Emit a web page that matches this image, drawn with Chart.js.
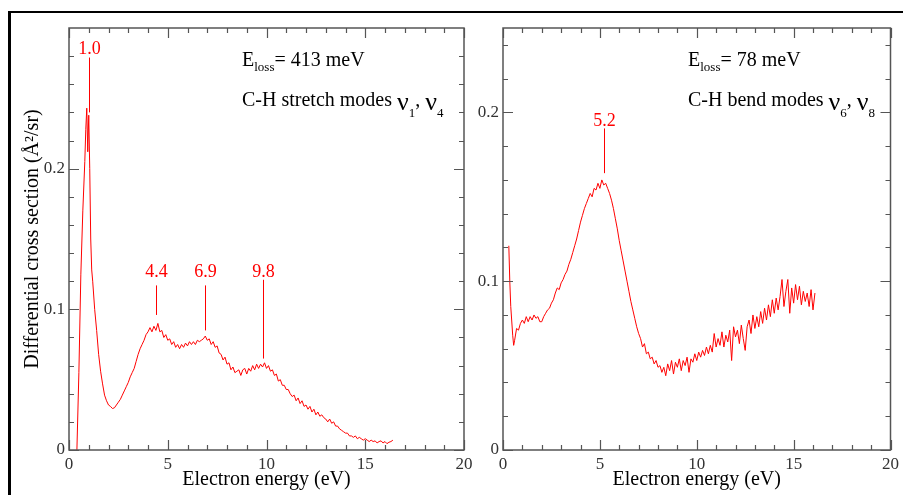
<!DOCTYPE html>
<html>
<head>
<meta charset="utf-8">
<script src="https://cdn.jsdelivr.net/npm/chart.js@4.4.0/dist/chart.umd.min.js"></script>
<style>
  html, body { margin: 0; padding: 0; background: #fff; }
  #page { position: relative; width: 903px; height: 495px; overflow: hidden; }
  #frame { position: absolute; left: 8px; top: 11px; width: 920px; height: 500px;
           border-top: 2px solid #000; border-left: 3px solid #000; }
  canvas { position: absolute; top: 0; }
  #left { left: 0; }
  #right { left: 470px; }
</style>
</head>
<body>
<div id="page">
  <div id="frame"></div>
  <canvas id="left" width="478" height="495"></canvas>
  <canvas id="right" width="433" height="495"></canvas>
</div>
<script>
// E_loss = 413 meV (C-H stretch)
const stretchEnergy = [
  0.4, 0.5, 0.6, 0.7, 0.8, 0.85, 0.9, 0.95, 1.0, 1.05, 1.1, 1.15, 1.2,
  1.3, 1.4, 1.5, 1.6, 1.7, 1.8, 1.9, 2.0, 2.1, 2.2,
  2.3, 2.4, 2.5, 2.6, 2.7, 2.8, 2.9, 3.0, 3.1, 3.2,
  3.3, 3.4, 3.5, 3.6, 3.7, 3.8, 3.9, 4.0, 4.1, 4.2,
  4.3, 4.4, 4.5, 4.6, 4.7, 4.8, 4.9, 5.0, 5.1, 5.2,
  5.3, 5.4, 5.5, 5.6, 5.7, 5.8, 5.9, 6.0, 6.1, 6.2,
  6.3, 6.4, 6.5, 6.6, 6.7, 6.8, 6.9, 7.0, 7.1, 7.2,
  7.3, 7.4, 7.5, 7.6, 7.7, 7.8, 7.9, 8.0, 8.1, 8.2,
  8.3, 8.4, 8.5, 8.6, 8.7, 8.8, 8.9, 9.0, 9.1, 9.2,
  9.3, 9.4, 9.5, 9.6, 9.7, 9.8, 9.9, 10.0, 10.1, 10.2,
  10.3, 10.4, 10.5, 10.6, 10.7, 10.8, 10.9, 11.0, 11.1, 11.2,
  11.3, 11.4, 11.5, 11.6, 11.7, 11.8, 11.9, 12.0, 12.1, 12.2,
  12.3, 12.4, 12.5, 12.6, 12.7, 12.8, 12.9, 13.0, 13.1, 13.2,
  13.3, 13.4, 13.5, 13.6, 13.7, 13.8, 13.9, 14.0, 14.1, 14.2,
  14.3, 14.4, 14.5, 14.6, 14.7, 14.8, 14.9, 15.0, 15.1, 15.2,
  15.3, 15.4, 15.5, 15.6, 15.7, 15.8, 15.9, 16.0, 16.1, 16.2,
  16.3, 16.4
];
const stretchSigma = [
  0, 0.055, 0.125, 0.17, 0.205, 0.228, 0.243, 0.212, 0.238, 0.2, 0.15, 0.128, 0.12,
  0.1, 0.085, 0.068, 0.056, 0.047, 0.039, 0.035, 0.032, 0.031, 0.0295,
  0.030, 0.032, 0.034, 0.036, 0.039, 0.042, 0.045, 0.048, 0.052, 0.055,
  0.058, 0.063, 0.068, 0.072, 0.075, 0.078, 0.082, 0.084, 0.087, 0.084,
  0.088, 0.085, 0.090, 0.084, 0.085, 0.080, 0.082, 0.078, 0.079, 0.075,
  0.077, 0.073, 0.075, 0.072, 0.075, 0.073, 0.076, 0.074, 0.077, 0.075,
  0.077, 0.075, 0.078, 0.077, 0.078, 0.079, 0.081, 0.078, 0.079, 0.075,
  0.077, 0.073, 0.074, 0.069, 0.068, 0.064, 0.066, 0.061, 0.062, 0.057,
  0.059, 0.055, 0.056, 0.057, 0.053, 0.057, 0.058, 0.054, 0.058, 0.056,
  0.060, 0.057, 0.061, 0.058, 0.061, 0.059, 0.062, 0.058, 0.060, 0.056,
  0.057, 0.053, 0.054, 0.049, 0.050, 0.046, 0.046, 0.043, 0.043, 0.040,
  0.038, 0.039, 0.035, 0.037, 0.033, 0.035, 0.031, 0.032, 0.029, 0.031,
  0.027, 0.029, 0.025, 0.027, 0.024, 0.025, 0.023, 0.022, 0.020, 0.022,
  0.019, 0.020, 0.017, 0.017, 0.015, 0.014, 0.013, 0.012, 0.012, 0.010,
  0.010, 0.009, 0.010, 0.008, 0.009, 0.008, 0.007, 0.008, 0.007, 0.006,
  0.007, 0.006, 0.0065, 0.005, 0.006, 0.0065, 0.005, 0.006, 0.0045, 0.0055,
  0.006, 0.007
];

// E_loss = 78 meV (C-H bend)
const bendEnergy = [
  0.3, 0.35, 0.4, 0.5, 0.55, 0.6, 0.7, 0.8, 0.9, 1.0,
  1.1, 1.2, 1.3, 1.4, 1.5, 1.6, 1.7, 1.8, 1.9, 2.0,
  2.1, 2.2, 2.3, 2.4, 2.5, 2.6, 2.7, 2.8, 2.9, 3.0,
  3.1, 3.2, 3.3, 3.4, 3.5, 3.6, 3.7, 3.8, 3.9, 4.0,
  4.1, 4.2, 4.3, 4.4, 4.5, 4.6, 4.7, 4.8, 4.9, 5.0,
  5.1, 5.2, 5.3, 5.4, 5.5, 5.6, 5.7, 5.8, 5.9, 6.0,
  6.1, 6.2, 6.3, 6.4, 6.5, 6.6, 6.7, 6.8, 6.9, 7.0,
  7.1, 7.2, 7.3, 7.4, 7.5, 7.6, 7.7, 7.8, 7.9, 8.0,
  8.1, 8.2, 8.3, 8.4, 8.5, 8.6, 8.7, 8.8, 8.9, 9.0,
  9.1, 9.2, 9.3, 9.4, 9.5, 9.6, 9.7, 9.8, 9.9, 10.0,
  10.1, 10.2, 10.3, 10.4, 10.5, 10.6, 10.7, 10.8, 10.9, 11.0,
  11.1, 11.2, 11.3, 11.4, 11.5, 11.6, 11.7, 11.8, 11.9, 12.0,
  12.1, 12.2, 12.3, 12.4, 12.5, 12.6, 12.7, 12.8, 12.9, 13.0,
  13.1, 13.2, 13.3, 13.4, 13.5, 13.6, 13.7, 13.8, 13.9, 14.0,
  14.1, 14.2, 14.3, 14.4, 14.5, 14.6, 14.7, 14.8, 14.9, 15.0,
  15.1, 15.2, 15.3, 15.4, 15.5, 15.6, 15.7, 15.8, 15.9, 16.0,
  16.1
];
const bendSigma = [
  0.121, 0.1, 0.085, 0.068, 0.062, 0.065, 0.072, 0.071, 0.075, 0.077,
  0.075, 0.079, 0.076, 0.079, 0.077, 0.080, 0.078, 0.079, 0.076, 0.076,
  0.079, 0.081, 0.083, 0.084, 0.087, 0.089, 0.093, 0.096, 0.095, 0.099,
  0.101, 0.104, 0.106, 0.110, 0.113, 0.117, 0.121, 0.125, 0.130, 0.135,
  0.139, 0.143, 0.146, 0.149, 0.152, 0.150, 0.155, 0.154, 0.158, 0.155,
  0.160, 0.157, 0.158, 0.155, 0.152, 0.148, 0.143, 0.137, 0.131, 0.124,
  0.118, 0.112, 0.106, 0.100, 0.094, 0.088, 0.083, 0.078, 0.073, 0.069,
  0.066, 0.061, 0.063, 0.057, 0.058, 0.054, 0.055, 0.051, 0.053, 0.049,
  0.050, 0.046, 0.049, 0.044, 0.051, 0.047, 0.053, 0.045, 0.052, 0.049,
  0.054, 0.047, 0.053, 0.050, 0.055, 0.046, 0.054, 0.052, 0.057, 0.053,
  0.058, 0.055, 0.059, 0.056, 0.061, 0.057, 0.062, 0.058, 0.069, 0.061,
  0.066, 0.062, 0.070, 0.061, 0.068, 0.064, 0.071, 0.053, 0.073, 0.067,
  0.071, 0.063, 0.074, 0.066, 0.059, 0.073, 0.077, 0.069, 0.080, 0.072,
  0.079, 0.073, 0.082, 0.075, 0.084, 0.077, 0.086, 0.079, 0.089, 0.081,
  0.090, 0.083, 0.091, 0.101, 0.085, 0.094, 0.101, 0.081, 0.096, 0.087,
  0.098, 0.089, 0.097, 0.086, 0.094, 0.088, 0.093, 0.085, 0.095, 0.083,
  0.093
];

// axis ticks
const xMajorTicks = [0, 5, 10, 15, 20];
const xMinorTicks = [1, 2, 3, 4, 6, 7, 8, 9, 11, 12, 13, 14, 16, 17, 18, 19];
const yLabelTicks = [0, 0.1, 0.2];
const yMinorStretch = [0.02, 0.04, 0.06, 0.08, 0.12, 0.14, 0.16, 0.18, 0.22, 0.24, 0.26, 0.28];
const yMinorBend = [0.02, 0.04, 0.06, 0.08, 0.12, 0.14, 0.16, 0.18, 0.22, 0.24];

// peak markers: label, energy, line top/bottom and label height (cross-section units)
const stretchPeaks = ["1.0", "4.4", "6.9", "9.8"];
const stretchPeakEnergy = [1.0, 4.4, 6.9, 9.8];
const stretchPeakTop = [0.279, 0.117, 0.117, 0.121];
const stretchPeakBottom = [0.24, 0.096, 0.085, 0.065];
const stretchPeakLabelY = [0.2816, 0.1227, 0.1227, 0.1227];
const bendPeaks = ["5.2"];
const bendPeakEnergy = [5.2];
const bendPeakTop = [0.1905];
const bendPeakBottom = [0.164];
const bendPeakLabelY = [0.1917];

const serif = '"Liberation Serif", "Times New Roman", serif';
const axisColor = "#555";
const red = "#ff0000";

function drawRuns(ctx, x, y, runs) {
  // runs: [text, fontSize, baseline shift]
  runs.forEach(([t, size, dy]) => {
    ctx.font = size + "px " + serif;
    ctx.fillText(t, x, y + dy);
    x += ctx.measureText(t).width;
  });
}

const framePlugin = {
  id: "frameTicks",
  afterDatasetsDraw(chart, args, opts) {
    const { ctx, chartArea: a, scales: { x, y } } = chart;
    ctx.save();
    ctx.strokeStyle = axisColor;
    ctx.lineWidth = 1.5;
    ctx.strokeRect(a.left, a.top, a.right - a.left, a.bottom - a.top);
    ctx.lineWidth = 1.2;
    ctx.beginPath();
    const xt = (vals, len) => vals.forEach(v => {
      const p = Math.round(x.getPixelForValue(v)) + 0.5;
      ctx.moveTo(p, a.bottom); ctx.lineTo(p, a.bottom - len);
      ctx.moveTo(p, a.top); ctx.lineTo(p, a.top + len);
    });
    const yt = (vals, len) => vals.forEach(v => {
      const p = Math.round(y.getPixelForValue(v)) + 0.5;
      ctx.moveTo(a.left, p); ctx.lineTo(a.left + len, p);
      ctx.moveTo(a.right, p); ctx.lineTo(a.right - len, p);
    });
    xt(xMajorTicks, 10);
    xt(xMinorTicks, 5);
    yt(yLabelTicks, 10);
    yt(opts.yMinor, 5);
    ctx.stroke();

    // peak markers
    ctx.strokeStyle = red;
    ctx.fillStyle = red;
    ctx.lineWidth = 1;
    ctx.font = "18px " + serif;
    ctx.textAlign = "center";
    ctx.textBaseline = "alphabetic";
    opts.peaks.forEach((lab, i) => {
      const px = Math.round(x.getPixelForValue(opts.peakEnergy[i])) + 0.5;
      ctx.beginPath();
      ctx.moveTo(px, y.getPixelForValue(opts.peakTop[i]));
      ctx.lineTo(px, y.getPixelForValue(opts.peakBottom[i]));
      ctx.stroke();
      ctx.fillText(lab, px, y.getPixelForValue(opts.peakLabelY[i]));
    });

    // text
    ctx.fillStyle = "#000";
    ctx.textAlign = "left";
    drawRuns(ctx, a.left + opts.textX, a.top + 38, opts.line1);
    drawRuns(ctx, a.left + opts.textX, a.top + 78, opts.line2);
    ctx.restore();
  }
};

function makeChart(id, energy, sigma, cfg) {
  return new Chart(document.getElementById(id), {
    type: "scatter",
    data: {
      datasets: [{
        data: energy.map((e, i) => ({ x: e, y: sigma[i] })),
        showLine: true,
        borderColor: red,
        borderWidth: 1,
        pointRadius: 0,
        tension: 0
      }]
    },
    options: {
      responsive: false,
      animation: false,
      layout: { padding: { top: 28, right: cfg.padRight, left: 0, bottom: 0 } },
      plugins: {
        legend: { display: false },
        tooltip: { enabled: false },
        frameTicks: cfg
      },
      scales: {
        x: {
          type: "linear", min: 0, max: 20,
          afterBuildTicks: s => { s.ticks = xMajorTicks.map(v => ({ value: v })); },
          afterFit: s => { s.height = 45; },
          grid: { display: false, drawTicks: false },
          border: { display: false },
          ticks: { padding: 4, color: "#333", font: { family: serif, size: 17 }, maxRotation: 0 },
          title: {
            display: true, text: "Electron energy (eV)", color: "#000",
            font: { family: serif, size: 20 }, padding: { top: 0, bottom: 3 }
          }
        },
        y: {
          type: "linear", min: 0, max: cfg.yMax,
          afterBuildTicks: s => { s.ticks = yLabelTicks.map(v => ({ value: v })); },
          afterFit: s => { s.width = cfg.yWidth; },
          grid: { display: false, drawTicks: false },
          border: { display: false },
          ticks: { padding: 4, color: "#333", font: { family: serif, size: 17 },
                   callback: v => v === 0 ? "0" : String(v) },
          title: {
            display: cfg.yTitle !== "", text: cfg.yTitle, color: "#000",
            font: { family: serif, size: 20 }, padding: { top: 21, bottom: 0 }
          }
        }
      }
    },
    plugins: [framePlugin]
  });
}

makeChart("left", stretchEnergy, stretchSigma, {
  yMax: 0.3, yWidth: 69, padRight: 14, yTitle: "Differential cross section (Å²/sr)",
  yMinor: yMinorStretch,
  peaks: stretchPeaks, peakEnergy: stretchPeakEnergy, peakTop: stretchPeakTop,
  peakBottom: stretchPeakBottom, peakLabelY: stretchPeakLabelY,
  textX: 173,
  line1: [["E", 20, 0], ["loss", 13, 5], ["= 413 meV", 20, 0]],
  line2: [["C-H stretch modes ", 20, 0], ["ν", 26, 4], ["1", 13, 11], [", ", 20, 0], ["ν", 26, 4], ["4", 13, 11]]
});

makeChart("right", bendEnergy, bendSigma, {
  yMax: 0.25, yWidth: 33, padRight: 5, yTitle: "",
  yMinor: yMinorBend,
  peaks: bendPeaks, peakEnergy: bendPeakEnergy, peakTop: bendPeakTop,
  peakBottom: bendPeakBottom, peakLabelY: bendPeakLabelY,
  textX: 185,
  line1: [["E", 20, 0], ["loss", 13, 5], ["= 78 meV", 20, 0]],
  line2: [["C-H bend modes ", 20, 0], ["ν", 26, 4], ["6", 13, 11], [", ", 20, 0], ["ν", 26, 4], ["8", 13, 11]]
});
</script>
</body>
</html>
